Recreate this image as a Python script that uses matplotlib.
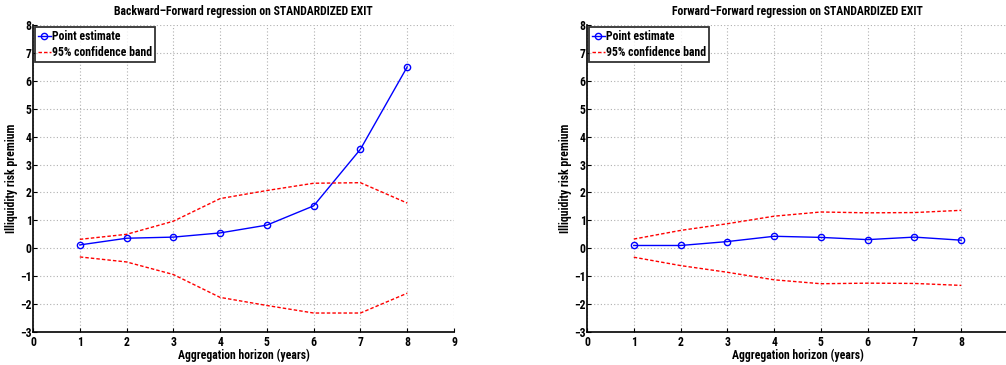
import matplotlib
matplotlib.use("Agg")
import matplotlib.pyplot as plt

plt.rcParams['font.family'] = ['Roboto Condensed', 'Liberation Sans', 'DejaVu Sans']
plt.rcParams['font.weight'] = 'bold'

horizon = [1, 2, 3, 4, 5, 6, 7, 8]

# Backward-Forward regression
bf_point = [0.12, 0.36, 0.40, 0.55, 0.83, 1.52, 3.55, 6.50]
bf_upper = [0.32, 0.50, 0.97, 1.78, 2.07, 2.33, 2.35, 1.62]
bf_lower = [-0.31, -0.49, -0.94, -1.76, -2.05, -2.32, -2.32, -1.61]

# Forward-Forward regression
ff_point = [0.10, 0.10, 0.24, 0.43, 0.39, 0.31, 0.40, 0.29]
ff_upper = [0.33, 0.64, 0.88, 1.15, 1.30, 1.27, 1.28, 1.36]
ff_lower = [-0.32, -0.62, -0.86, -1.13, -1.27, -1.25, -1.26, -1.33]

titles = ["Backward\u2013Forward regression on STANDARDIZED EXIT",
          "Forward\u2013Forward regression on STANDARDIZED EXIT"]
xlabel = "Aggregation horizon (years)"
ylabel = "Illiquidity risk premium"
xticks = list(range(0, 10))
yticks = list(range(-3, 9))

fs = 8.5
fig = plt.figure(figsize=(10.06, 3.65), dpi=100)
rects = [[0.0328, 0.0904, 0.4185, 0.8411], [0.5835, 0.0904, 0.4185, 0.8411]]

for rect, title, pt, up, lo in zip(rects, titles,
                                   [bf_point, ff_point],
                                   [bf_upper, ff_upper],
                                   [bf_lower, ff_lower]):
    ax = fig.add_axes(rect)
    ax.plot(horizon, pt, color='blue', lw=1.0, marker='o', ms=4.5,
            mfc='none', mec='blue', mew=1.0, label='Point estimate')
    ax.plot(horizon, up, color='red', lw=1.0, dashes=(2.5, 1.5),
            label='95% confidence band')
    ax.plot(horizon, lo, color='red', lw=1.0, dashes=(2.5, 1.5))
    ax.set_xlim(0, 9)
    ax.set_ylim(-3, 8)
    ax.set_xticks(xticks)
    ax.set_yticks(yticks)
    ax.set_yticklabels([str(v).replace('-', '\u2212') for v in yticks])
    ax.grid(True, color='#b0b0b0', linestyle=(0, (1, 2)), lw=0.8)
    ax.set_axisbelow(True)
    for s in ['top', 'right']:
        ax.spines[s].set_visible(False)
    for s in ['left', 'bottom']:
        ax.spines[s].set_linewidth(1.2)
    ax.tick_params(direction='in', length=3, width=0.8, labelsize=fs)
    ax.tick_params(axis='x', pad=3)
    ax.tick_params(axis='y', pad=1)
    ax.set_title(title, fontsize=fs, fontweight='bold', pad=7)
    ax.set_xlabel(xlabel, fontsize=fs, fontweight='bold', labelpad=0)
    ax.set_ylabel(ylabel, fontsize=fs, fontweight='bold')
    ax.yaxis.set_label_coords(-0.036, 0.5)
    leg = ax.legend(loc='upper left', fontsize=fs, frameon=True, fancybox=False,
                    borderpad=0.2, handlelength=1.1, handletextpad=0.15,
                    labelspacing=0.3, borderaxespad=0.2)
    leg.get_frame().set_edgecolor('black')
    leg.get_frame().set_linewidth(1.3)

fig.savefig("out.png", dpi=100)
